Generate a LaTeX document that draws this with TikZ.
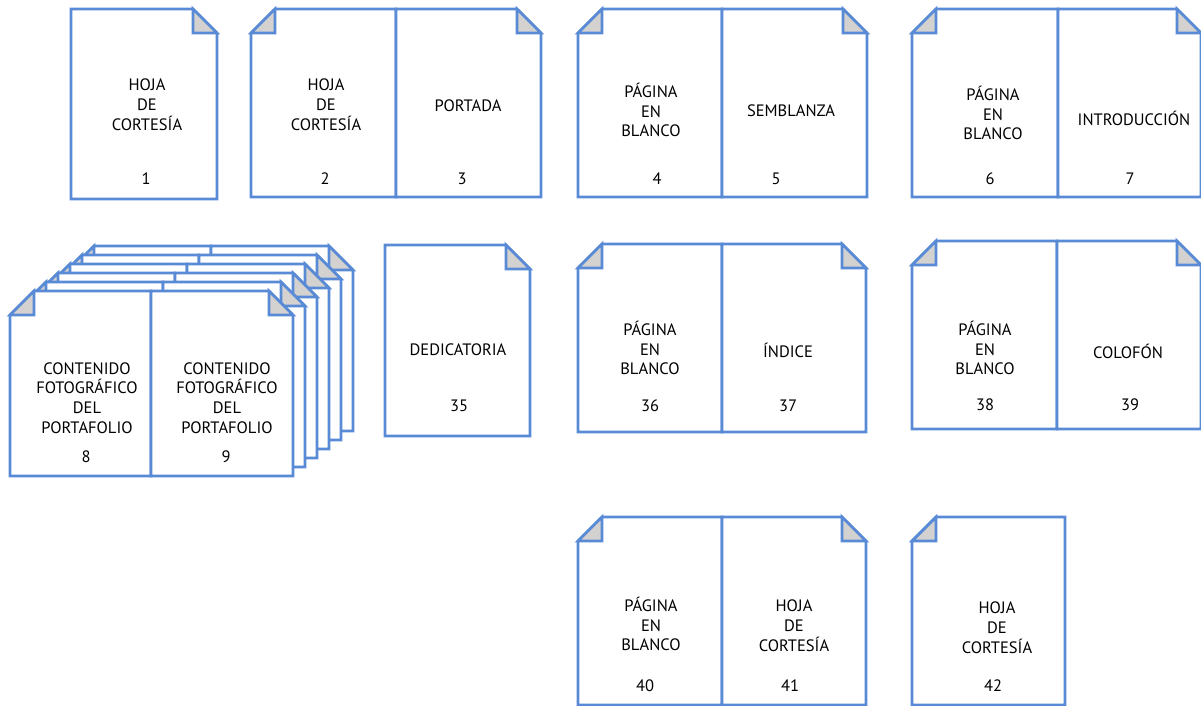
\documentclass[tikz,border=0pt]{standalone}
\usepackage{fontspec}
\setmainfont{PT Sans}
\definecolor{pblue}{RGB}{88,138,214}
\definecolor{flap}{RGB}{212,210,208}
\def\pfold{24}
\newcommand\dpR[4]{%
  \filldraw[pageline,fill=white] (#1,#2) -- (#3-\pfold,#2) -- (#3,#2+\pfold) -- (#3,#4) -- (#1,#4) -- cycle;
  \filldraw[pageline,fill=flap] (#3-\pfold,#2) -- (#3-\pfold,#2+\pfold) -- (#3,#2+\pfold) -- cycle;}
\newcommand\dpL[4]{%
  \filldraw[pageline,fill=white] (#1+\pfold,#2) -- (#3,#2) -- (#3,#4) -- (#1,#4) -- (#1,#2+\pfold) -- cycle;
  \filldraw[pageline,fill=flap] (#1+\pfold,#2) -- (#1+\pfold,#2+\pfold) -- (#1,#2+\pfold) -- cycle;}
\begin{document}
\begin{tikzpicture}[x=1pt,y=-1pt,
  pageline/.style={draw=pblue,line width=2.8pt,line join=miter},
  lbl/.style={font=\fontsize{16.5}{19.8}\selectfont,align=center,inner sep=0pt,text=black}]
\useasboundingbox (0,0) rectangle (1201,706);
% row 1
\dpR{71}{9}{217}{199}
\dpL{251}{9}{396}{197}
\dpR{396}{9}{541}{197}
\dpL{578}{9}{722}{197}
\dpR{722}{9}{867}{197}
\dpL{912}{9}{1058}{197}
\dpR{1058}{9}{1201}{197}
% stack
\foreach \k in {5,4,3,2,1}{
  \dpL{10+12*\k}{291-9*\k}{151+12*\k}{476-9*\k}
  \dpR{151+12*\k}{291-9*\k}{293+12*\k}{476-9*\k}
}
\dpL{10}{291}{151}{476}
\dpR{151}{291}{293}{476}
% row 2
\dpR{385}{245}{530}{436}
\dpL{578}{244}{722}{432}
\dpR{722}{244}{866}{432}
\dpL{912}{241}{1057}{429}
\dpR{1057}{241}{1201}{429}
% row 3
\dpL{578}{517}{722}{705}
\dpR{722}{517}{866}{705}
\dpL{912}{517}{1065}{705}
% texts
\node[lbl] (t1) at (147,105) {HOJA\\DE\\CORTESÍA};
\node[lbl] (n1) at (146,179) {1};
\node[lbl] (t2) at (326,105) {HOJA\\DE\\CORTESÍA};
\node[lbl] (n2) at (325,179) {2};
\node[lbl] (t3) at (468,106) {PORTADA};
\node[lbl] (n3) at (462,179) {3};
\node[lbl] (t4) at (651,110) {PÁGINA\\EN\\BLANCO};
\node[lbl] (n4) at (657,179) {4};
\node[lbl] (t5) at (791,111) {SEMBLANZA};
\node[lbl] (n5) at (776,179) {5};
\node[lbl] (t6) at (993,113) {PÁGINA\\EN\\BLANCO};
\node[lbl] (n6) at (990,179) {6};
\node[lbl] (t7) at (1134,118) {INTRODUCCIÓN};
\node[lbl] (n7) at (1130,179) {7};
\node[lbl] (t8) at (87,398) {CONTENIDO\\FOTOGRÁFICO\\DEL\\PORTAFOLIO};
\node[lbl] (n8) at (86,457) {8};
\node[lbl] (t9) at (227,398) {CONTENIDO\\FOTOGRÁFICO\\DEL\\PORTAFOLIO};
\node[lbl] (n9) at (226,457) {9};
\node[lbl] (t35) at (458,350) {DEDICATORIA};
\node[lbl] (n35) at (459,406) {35};
\node[lbl] (t36) at (650,348) {PÁGINA\\EN\\BLANCO};
\node[lbl] (n36) at (650,406) {36};
\node[lbl] (t37) at (788,350) {ÍNDICE};
\node[lbl] (n37) at (788,406) {37};
\node[lbl] (t38) at (985,348) {PÁGINA\\EN\\BLANCO};
\node[lbl] (n38) at (985,405) {38};
\node[lbl] (t39) at (1128,351) {COLOFÓN};
\node[lbl] (n39) at (1130,405) {39};
\node[lbl] (t40) at (651,624) {PÁGINA\\EN\\BLANCO};
\node[lbl] (n40) at (645,686) {40};
\node[lbl] (t41) at (794,626) {HOJA\\DE\\CORTESÍA};
\node[lbl] (n41) at (790,686) {41};
\node[lbl] (t42) at (997,628) {HOJA\\DE\\CORTESÍA};
\node[lbl] (n42) at (993,686) {42};
\end{tikzpicture}
\end{document}
